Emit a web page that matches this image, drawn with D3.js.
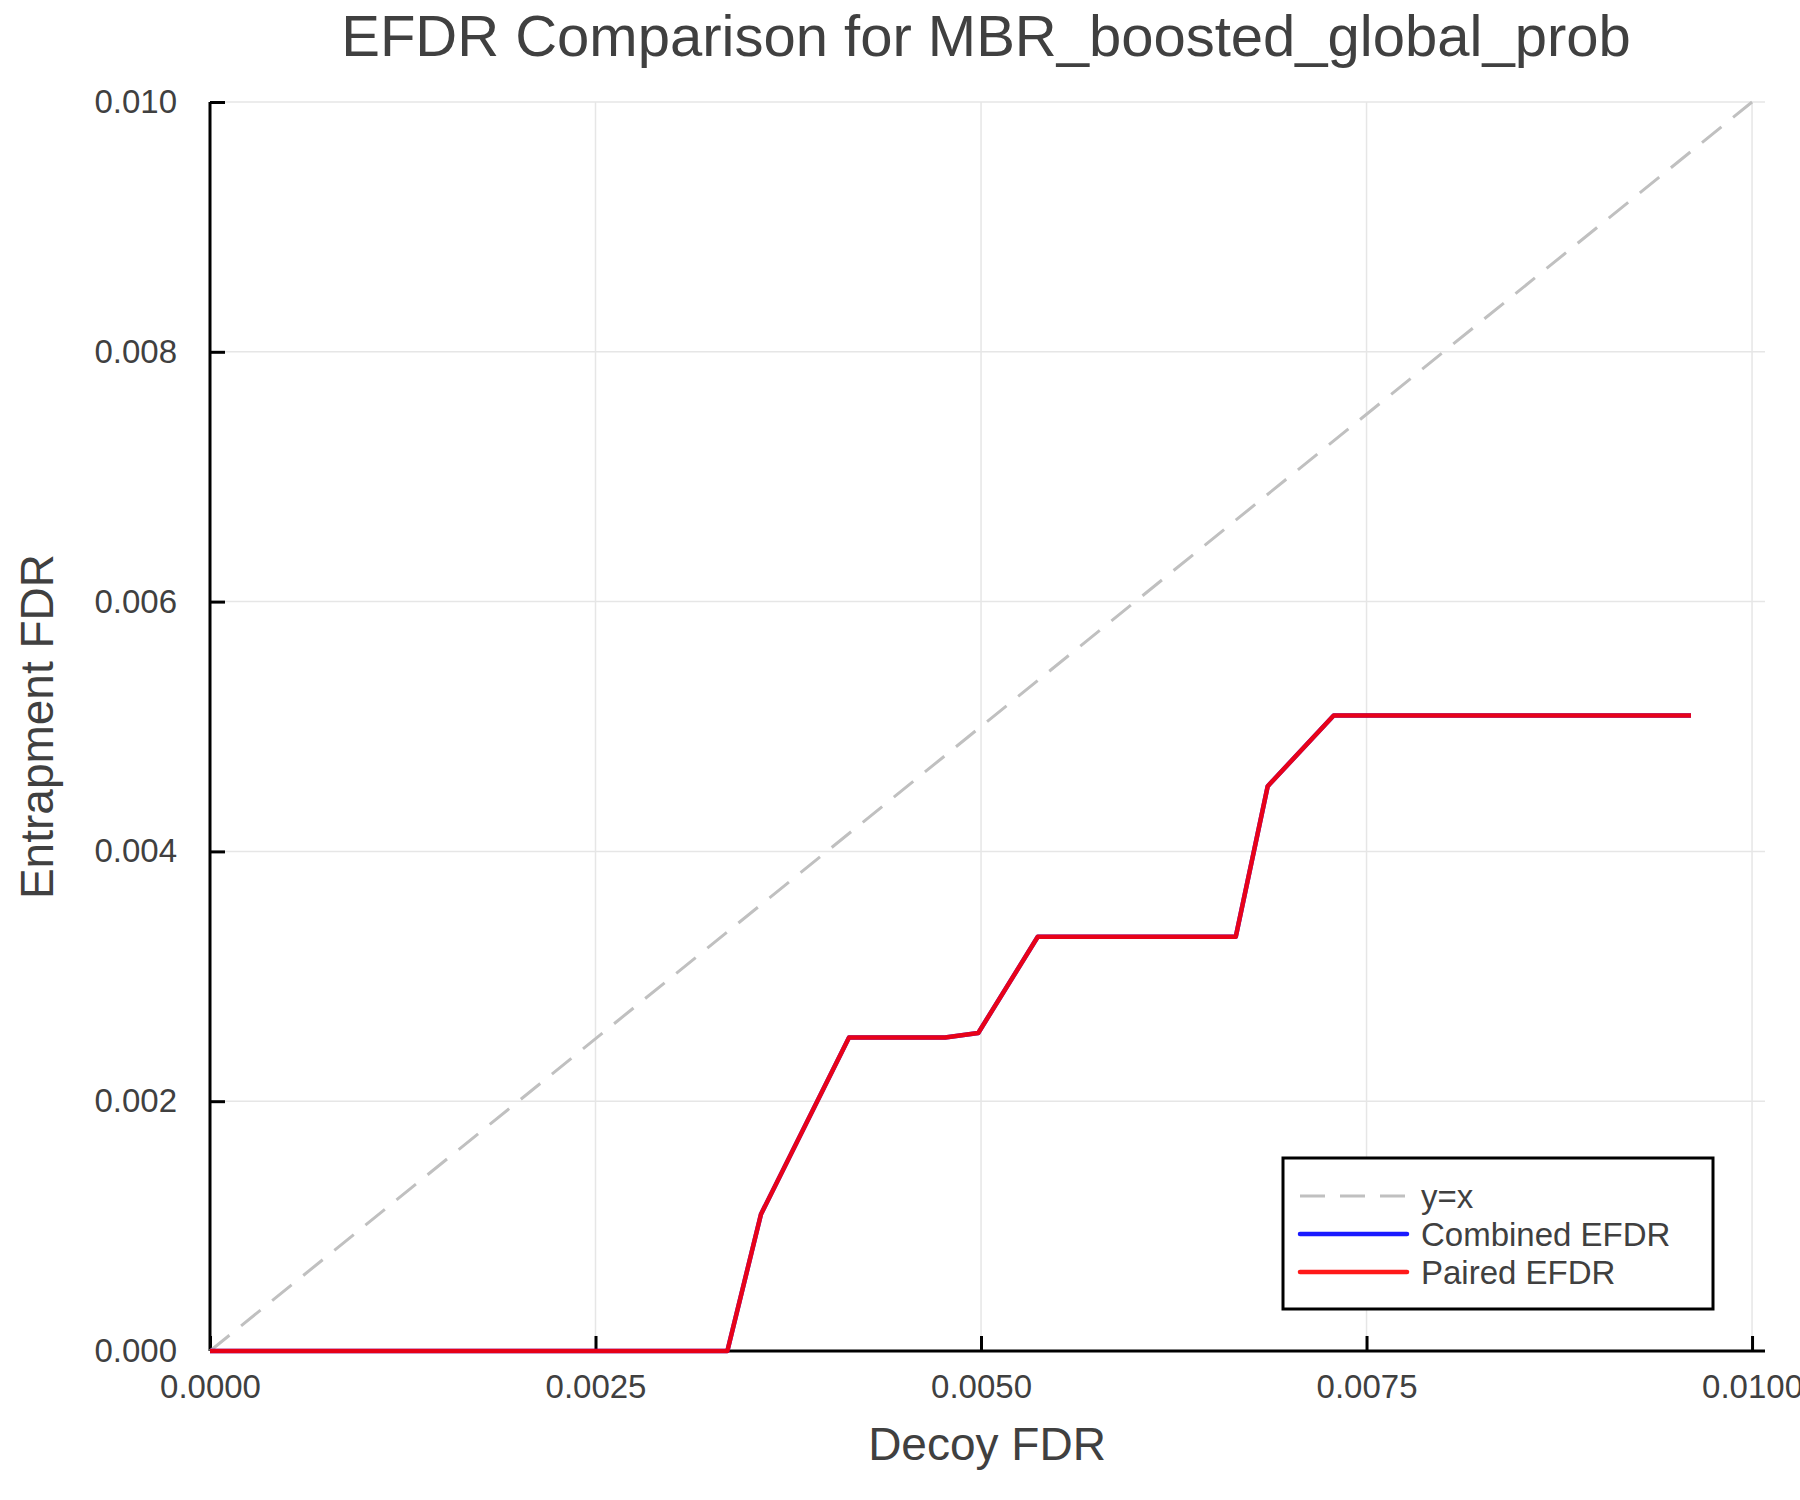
<!DOCTYPE html>
<html>
<head>
<meta charset="utf-8">
<script src="https://cdn.jsdelivr.net/npm/d3@7"></script>
<style>
  body { margin: 0; background: #fff; }
  text { font-family: "Liberation Sans", Arial, sans-serif; fill: #404040; }
</style>
</head>
<body>
<div id="chart"></div>
<script>
// Data
const decoyFdr     = [0, 0.003355, 0.003573, 0.004144, 0.004767, 0.004982, 0.005368, 0.006652, 0.006859, 0.007287, 0.009604];
const combinedEfdr = [0, 0,        0.001095, 0.002510, 0.002510, 0.002546, 0.003317, 0.003317, 0.004522, 0.005088, 0.005088];
const pairedEfdr   = [0, 0,        0.001095, 0.002510, 0.002510, 0.002546, 0.003317, 0.003317, 0.004522, 0.005088, 0.005088];
const diagonal     = [0, 0.01];
const xTicks = [0, 0.0025, 0.005, 0.0075, 0.01];
const yTicks = [0, 0.002, 0.004, 0.006, 0.008, 0.010];
const legendLabels = ["y=x", "Combined EFDR", "Paired EFDR"];

const width = 1800, height = 1500;
const plotLeft = 210, plotRight = 1765, plotTop = 102, plotBottom = 1351;

const svg = d3.select("#chart")
    .append("svg")
    .attr("width", width)
    .attr("height", height);

const x = d3.scaleLinear().domain([0, 0.010084]).range([plotLeft, plotRight]);
const y = d3.scaleLinear().domain([0, 0.01]).range([plotBottom, plotTop]);

// grid
svg.append("g")
    .selectAll("line")
    .data(xTicks)
    .enter()
    .append("line")
    .attr("x1", d => x(d)).attr("x2", d => x(d))
    .attr("y1", plotTop).attr("y2", plotBottom)
    .attr("stroke", "#e6e6e6")
    .attr("stroke-width", 1.5);

svg.append("g")
    .selectAll("line")
    .data(yTicks)
    .enter()
    .append("line")
    .attr("x1", plotLeft).attr("x2", plotRight)
    .attr("y1", d => y(d)).attr("y2", d => y(d))
    .attr("stroke", "#e6e6e6")
    .attr("stroke-width", 1.5);

// axes (ticks point inward)
const xAxis = svg.append("g")
    .attr("transform", `translate(0,${plotBottom})`)
    .call(d3.axisBottom(x).tickValues(xTicks).tickSize(-15).tickPadding(24).tickFormat(d3.format(".4f")));
const yAxis = svg.append("g")
    .attr("transform", `translate(${plotLeft},0)`)
    .call(d3.axisLeft(y).tickValues(yTicks).tickSize(-15).tickPadding(33).tickFormat(d3.format(".3f")));

[xAxis, yAxis].forEach(a => {
  a.select(".domain").attr("stroke", "#000").attr("stroke-width", 3);
  a.selectAll(".tick line").attr("stroke", "#000").attr("stroke-width", 3);
  a.selectAll(".tick text")
      .style("font-family", '"Liberation Sans", Arial, sans-serif')
      .style("font-size", "33px")
      .attr("fill", "#404040");
});
// plain domain lines without end caps
xAxis.select(".domain").attr("d", `M${plotLeft},0H${plotRight}`);
yAxis.select(".domain").attr("d", `M0,${plotTop}V${plotBottom}`);

// y = x
svg.append("path")
    .datum(diagonal)
    .attr("d", d3.line().x(d => x(d)).y(d => y(d)))
    .attr("fill", "none")
    .attr("stroke", "#c0c0c0")
    .attr("stroke-width", 3)
    .attr("stroke-dasharray", "25,15");

const line = d3.line().x(d => x(d[0])).y(d => y(d[1]));

svg.append("path")
    .datum(decoyFdr.map((d, i) => [d, combinedEfdr[i]]))
    .attr("d", line)
    .attr("fill", "none")
    .attr("stroke", "blue")
    .attr("stroke-opacity", 0.9)
    .attr("stroke-width", 4.5)
    .attr("stroke-linejoin", "round");

svg.append("path")
    .datum(decoyFdr.map((d, i) => [d, pairedEfdr[i]]))
    .attr("d", line)
    .attr("fill", "none")
    .attr("stroke", "red")
    .attr("stroke-opacity", 0.9)
    .attr("stroke-width", 4.5)
    .attr("stroke-linejoin", "round");

// legend
const legend = svg.append("g");
legend.append("rect")
    .attr("x", 1283).attr("y", 1158)
    .attr("width", 430).attr("height", 151)
    .attr("fill", "#fff")
    .attr("stroke", "#000")
    .attr("stroke-width", 3);

const legendStyles = [
  { color: "#c0c0c0", dash: "25,15", width: 3, opacity: 1 },
  { color: "blue", dash: null, width: 4.5, opacity: 0.9 },
  { color: "red", dash: null, width: 4.5, opacity: 0.9 }
];
legendLabels.forEach((label, i) => {
  const ly = 1196 + i * 38;
  legend.append("line")
      .attr("x1", 1300).attr("x2", 1407)
      .attr("y1", ly).attr("y2", ly)
      .attr("stroke", legendStyles[i].color)
      .attr("stroke-opacity", legendStyles[i].opacity)
      .attr("stroke-width", legendStyles[i].width)
      .attr("stroke-linecap", legendStyles[i].dash ? "butt" : "round")
      .attr("stroke-dasharray", legendStyles[i].dash);
  legend.append("text")
      .attr("x", 1421).attr("y", ly)
      .attr("dy", "0.35em")
      .style("font-size", "33px")
      .text(label);
});

// titles
svg.append("text")
    .attr("x", 986).attr("y", 56)
    .attr("text-anchor", "middle")
    .style("font-size", "58px")
    .text("EFDR Comparison for MBR_boosted_global_prob");

svg.append("text")
    .attr("x", 987).attr("y", 1460)
    .attr("text-anchor", "middle")
    .style("font-size", "46px")
    .text("Decoy FDR");

svg.append("text")
    .attr("transform", `translate(53,${(plotTop + plotBottom) / 2}) rotate(-90)`)
    .attr("text-anchor", "middle")
    .style("font-size", "46px")
    .text("Entrapment FDR");
</script>
</body>
</html>
